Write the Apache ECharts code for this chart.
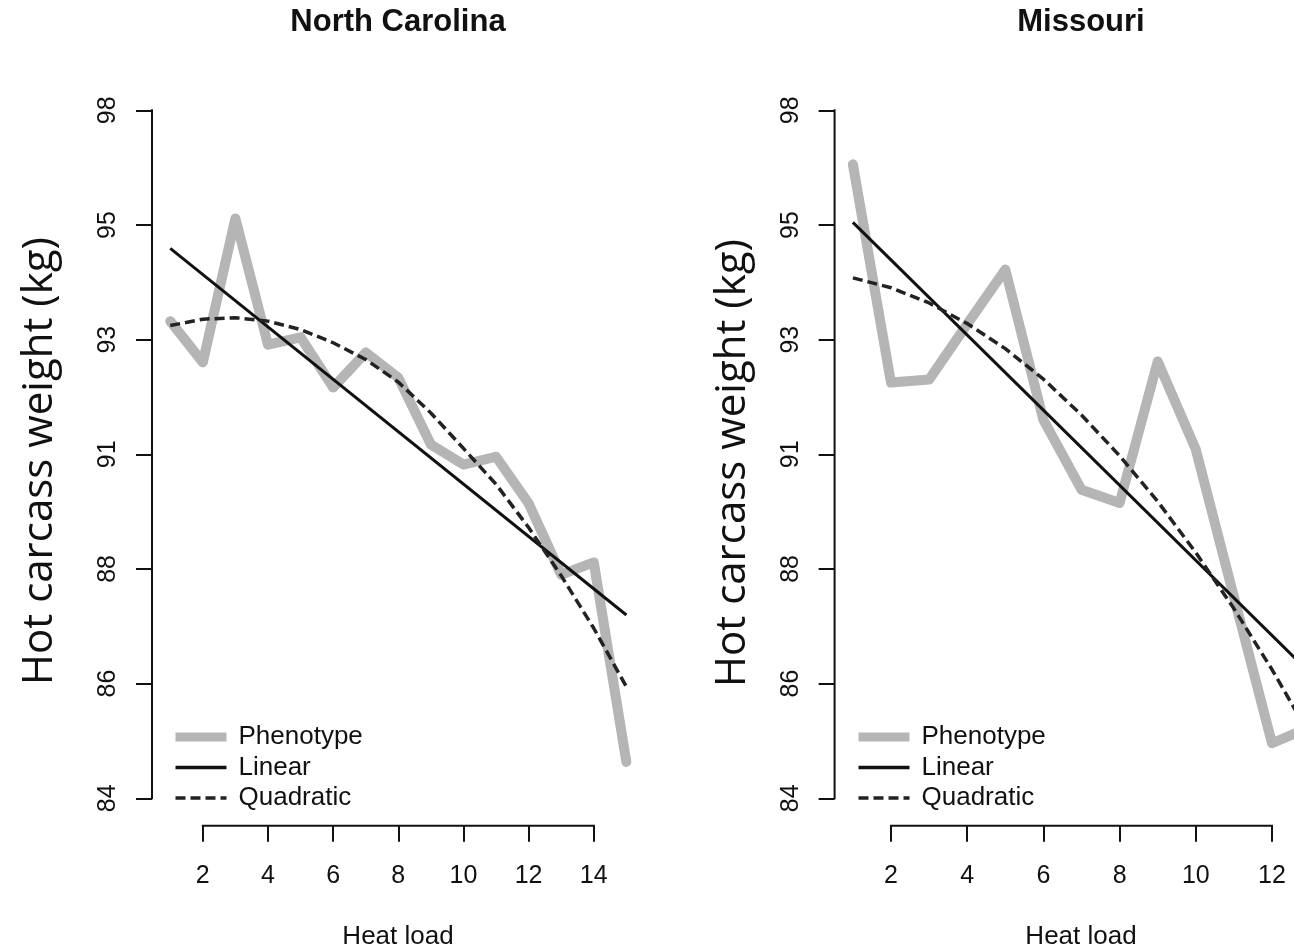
<!DOCTYPE html>
<html><head><meta charset="utf-8">
<script src="https://cdn.jsdelivr.net/npm/echarts@6/dist/echarts.min.js"></script>
<style>html,body{margin:0;padding:0;background:#fff;overflow:hidden}#c{width:1294px;height:951px}</style>
</head><body><div id="c"></div>
<script>
// ---------- data ----------
const panelTitles = ['North Carolina', 'Missouri'];
const xAxisTitle = 'Heat load';
const yAxisTitle = 'Hot carcass weight (kg)';
const legendNames = ['Phenotype', 'Linear', 'Quadratic'];

const heatNC = [1, 2, 3, 4, 5, 6, 7, 8, 9, 10, 11, 12, 13, 14, 15];
const phenoNC = [93.71, 92.87, 95.8, 93.23, 93.38, 92.36, 93.07, 92.56, 91.2, 90.79, 90.95, 90.0, 88.55, 88.8, 84.74];
const linHeatNC = [1, 15];
const linNC = [95.19, 87.73];
const quadNC = [93.62, 93.75, 93.78, 93.71, 93.54, 93.27, 92.93, 92.47, 91.84, 91.12, 90.39, 89.51, 88.53, 87.46, 86.27];

const heatMO = [1, 2, 3, 4, 5, 6, 7, 8, 9, 10, 11, 12, 13];
const phenoMO = [96.9, 92.46, 92.52, 93.65, 94.76, 91.7, 90.28, 90.01, 92.89, 91.1, 88.1, 85.12, 85.45];
const linHeatMO = [1, 13];
const linMO = [95.72, 86.55];
const quadMO = [94.59, 94.39, 94.08, 93.66, 93.15, 92.53, 91.80, 90.97, 90.04, 89.00, 87.86, 86.62, 85.27];

const xTicksNC = [2, 4, 6, 8, 10, 12, 14];
const xTicksMO = [2, 4, 6, 8, 10, 12];
const yTickValues = [84, 86.3333, 88.6667, 91, 93.3333, 95.6667, 98];
const yTickLabels = ['84', '86', '88', '91', '93', '95', '98'];

// axis limits (R style 4% padding)
const xLimNC = [0.44, 15.56];
const xLimMO = [0.52, 13.48];
const yLim = [83.44, 98.56];

// ---------- chart ----------
const FONT = '"Liberation Sans", Arial, sans-serif';
const INK = '#111';
const GREY = '#b5b5b5';
const DASH = [10, 5];
const zip = (xs, ys) => xs.map((x, i) => [x, ys[i]]);

const grids = [
  { left: 152, top: 82.8, width: 492.6, height: 743, outerBoundsMode: 'none', containLabel: false },
  { left: 834.6, top: 82.8, width: 493.8, height: 743, outerBoundsMode: 'none', containLabel: false }
];

function xAxisFor(i, lim, ticks) {
  return {
    type: 'value', gridIndex: i, min: lim[0], max: lim[1],
    axisLine: { show: false }, splitLine: { show: false },
    axisTick: { show: true, customValues: ticks, length: 16, lineStyle: { color: INK, width: 2 } },
    axisLabel: { customValues: ticks, margin: 38, fontSize: 25, color: INK, fontFamily: FONT }
  };
}
function yAxisFor(i) {
  return {
    type: 'value', gridIndex: i, min: yLim[0], max: yLim[1],
    axisLine: { show: false }, splitLine: { show: false },
    axisTick: { show: true, customValues: yTickValues, length: 16, lineStyle: { color: INK, width: 2 } },
    axisLabel: {
      customValues: yTickValues, rotate: 90, margin: 31, fontSize: 25, color: INK, fontFamily: FONT,
      formatter: v => {
        let best = 0;
        yTickValues.forEach((t, k) => { if (Math.abs(t - v) < Math.abs(yTickValues[best] - v)) best = k; });
        return yTickLabels[best];
      }
    }
  };
}
function seriesFor(i, heat, pheno, linHeat, lin, quad, xLim, xTicks) {
  const base = { type: 'line', xAxisIndex: i, yAxisIndex: i, symbol: 'none', clip: false, silent: true, animation: false };
  return [
    Object.assign({}, base, { name: legendNames[0], data: zip(heat, pheno), z: 2,
      lineStyle: { color: GREY, width: 10, cap: 'round', join: 'round' }, itemStyle: { color: GREY } }),
    Object.assign({}, base, { name: legendNames[1], data: zip(linHeat, lin), z: 3,
      lineStyle: { color: INK, width: 3 }, itemStyle: { color: INK } }),
    Object.assign({}, base, { name: legendNames[2], data: zip(heat, quad), z: 4,
      lineStyle: { color: '#222', width: 3.5, type: DASH }, itemStyle: { color: '#222' } }),
    // R-style axis lines (span first..last tick only)
    Object.assign({}, base, { data: [[xTicks[0], yLim[0]], [xTicks[xTicks.length - 1], yLim[0]]], z: 5,
      lineStyle: { color: INK, width: 2, cap: 'square' } }),
    Object.assign({}, base, { data: [[xLim[0], yTickValues[0]], [xLim[0], yTickValues[yTickValues.length - 1]]], z: 5,
      lineStyle: { color: INK, width: 2, cap: 'square' } })
  ];
}
const hiddenSymbol = { opacity: 0, color: 'rgba(0,0,0,0)', borderWidth: 0 };
function legendFor(left) {
  return {
    orient: 'vertical', left: left, top: 722, padding: 0, itemWidth: 51, itemHeight: 10, itemGap: 0.5,
    selectedMode: false,
    textStyle: { fontSize: 26, fontFamily: FONT, color: INK, lineHeight: 30, padding: [0, 0, 0, 7] },
    data: [
      { name: legendNames[0], itemStyle: hiddenSymbol, lineStyle: { width: 9, color: GREY, cap: 'butt' } },
      { name: legendNames[1], itemStyle: hiddenSymbol, lineStyle: { width: 3.5, color: INK } },
      { name: legendNames[2], itemStyle: hiddenSymbol, lineStyle: { width: 3.5, color: '#222', type: DASH } }
    ]
  };
}
function txt(x, y, text, font, rot) {
  return { type: 'text', x: x, y: y, rotation: rot || 0, silent: true,
    style: { text: text, font: font, fill: INK, align: 'center', verticalAlign: 'middle' } };
}

const chart = echarts.init(document.getElementById('c'), null, { renderer: 'canvas' });
chart.setOption({
  animation: false,
  backgroundColor: '#fff',
  grid: grids,
  xAxis: [xAxisFor(0, xLimNC, xTicksNC), xAxisFor(1, xLimMO, xTicksMO)],
  yAxis: [yAxisFor(0), yAxisFor(1)],
  legend: [legendFor(171), legendFor(854)],
  series: [].concat(
    seriesFor(0, heatNC, phenoNC, linHeatNC, linNC, quadNC, xLimNC, xTicksNC),
    seriesFor(1, heatMO, phenoMO, linHeatMO, linMO, quadMO, xLimMO, xTicksMO)
  ),
  graphic: [
    txt(398, 22, panelTitles[0], 'bold 31px ' + FONT),
    txt(1081, 22, panelTitles[1], 'bold 31px ' + FONT),
    txt(398, 937, xAxisTitle, '26px ' + FONT),
    txt(1081, 937, xAxisTitle, '26px ' + FONT),
    txt(40, 461, yAxisTitle, '42px "Open Sans", sans-serif', Math.PI / 2),
    txt(733, 463, yAxisTitle, '42px "Open Sans", sans-serif', Math.PI / 2)
  ]
});
</script></body></html>
